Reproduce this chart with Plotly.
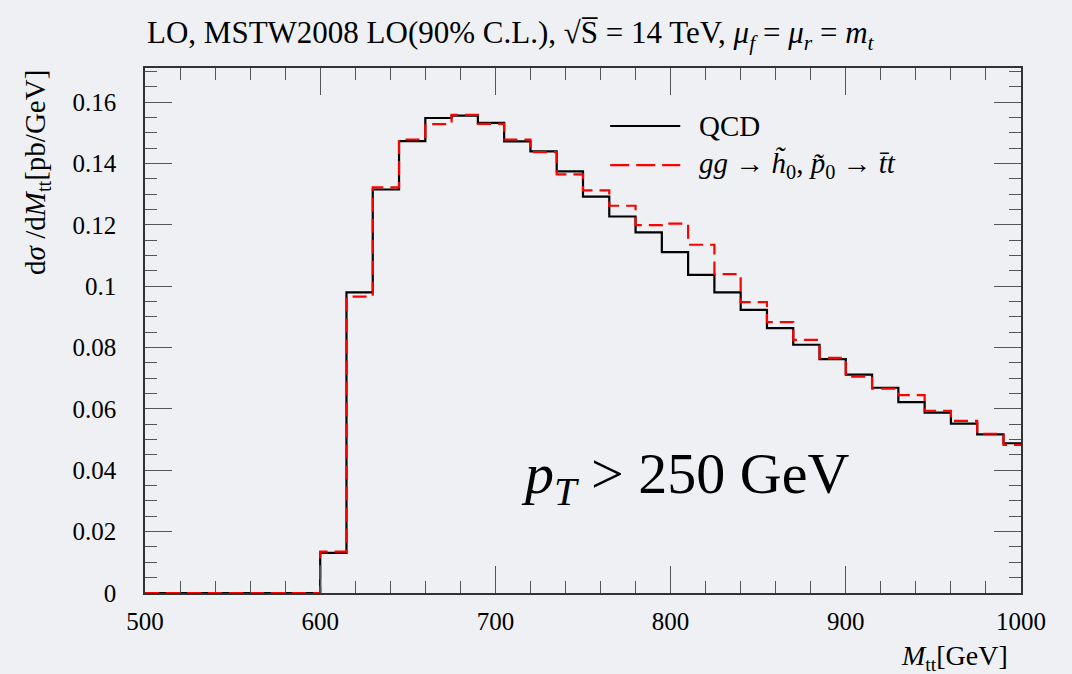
import plotly.graph_objects as go

# Bin left edges (GeV); region 500-600 is empty
bin_edges = [500, 600, 615, 630, 645, 660, 675, 690, 705, 720, 735, 750, 765, 780,
             795, 810, 825, 840, 855, 870, 885, 900, 915, 930, 945, 960, 975, 990]
last_edge = 1005

qcd = [0.0, 0.0131, 0.0980, 0.1315, 0.1473, 0.1548, 0.1556, 0.1532, 0.1472, 0.1439,
       0.1374, 0.1292, 0.1227, 0.1175, 0.1111, 0.1037, 0.0980, 0.0923, 0.0863, 0.0809,
       0.0762, 0.0712, 0.0669, 0.0622, 0.0588, 0.0552, 0.0517, 0.0488]

signal = [0.0, 0.0135, 0.0966, 0.1322, 0.1478, 0.1528, 0.1558, 0.1529, 0.1478, 0.1437,
          0.1364, 0.1312, 0.1262, 0.1199, 0.1204, 0.1135, 0.1039, 0.0948, 0.0883, 0.0825,
          0.0766, 0.0705, 0.0666, 0.0645, 0.0594, 0.0561, 0.0519, 0.0483]

y_tickvals = [0, 0.02, 0.04, 0.06, 0.08, 0.1, 0.12, 0.14, 0.16]
y_ticktext = ["0", "0.02", "0.04", "0.06", "0.08", "0.1", "0.12", "0.14", "0.16"]
x_tickvals = [500, 600, 700, 800, 900, 1000]

xs = bin_edges + [last_edge]
FONT = "Liberation Serif"
BG = "#eef0f3"

fig = go.Figure()
fig.add_trace(go.Scatter(x=xs, y=qcd + [qcd[-1]], mode="lines", line_shape="hv",
                         line=dict(color="black", width=2.2), name="QCD", showlegend=False))
fig.add_trace(go.Scatter(x=xs, y=signal + [signal[-1]], mode="lines", line_shape="hv",
                         line=dict(color="#ff0000", width=2.2, dash="14px,7px"),
                         name="signal", showlegend=False))

axis_common = dict(showgrid=False, zeroline=False, showline=True, linecolor="#333333",
                   linewidth=1.5, mirror="allticks", ticks="inside", tickcolor="#555555",
                   tickwidth=1.3, ticklen=27,
                   tickfont=dict(family=FONT, size=25, color="black"))

fig.update_xaxes(range=[500, 1000], tickvals=x_tickvals, ticklabelstandoff=5,
                 minor=dict(dtick=20, ticks="inside", ticklen=12, tickcolor="#555555",
                            tickwidth=1.3, showgrid=False),
                 **axis_common)
fig.update_yaxes(range=[0, 0.1711], tickvals=y_tickvals, ticktext=y_ticktext,
                 ticklabelstandoff=22,
                 minor=dict(dtick=0.005, ticks="inside", ticklen=12, tickcolor="#555555",
                            tickwidth=1.3, showgrid=False),
                 **axis_common)

fig.update_layout(
    width=1072, height=674,
    margin=dict(l=145, r=51, t=68, b=81),
    paper_bgcolor=BG, plot_bgcolor=BG,
    font=dict(family=FONT, color="black"),
)

anns = [
    dict(text="LO, MSTW2008 LO(90% C.L.), √S̅ = 14 TeV, <i>μ</i><sub><i>f</i></sub> = <i>μ</i><sub><i>r</i></sub> = <i>m</i><sub><i>t</i></sub>",
         xref="paper", yref="paper", x=0.0, y=1.063, xanchor="left", yanchor="middle",
         showarrow=False, font=dict(size=31)),
    dict(text="d<i>σ</i> /d<i>M</i><sub>tt</sub>[pb/GeV]", textangle=-90,
         xref="paper", yref="paper", x=-0.124, y=1.0, xanchor="center", yanchor="top",
         showarrow=False, font=dict(size=29)),
    dict(text="<i>M</i><sub>tt</sub>[GeV]", xref="paper", yref="paper", x=0.987, y=-0.122,
         xanchor="right", yanchor="middle", showarrow=False, font=dict(size=28)),
    dict(text="<i>p</i><sub><i>T</i></sub> > 250 GeV", xref="x", yref="y", x=808, y=0.0378,
         xanchor="center", yanchor="middle", showarrow=False, font=dict(size=58)),
    dict(text="QCD", xref="paper", yref="paper", x=0.630, y=0.8895, xanchor="left",
         yanchor="middle", showarrow=False, font=dict(size=29)),
    dict(text="<i>gg</i> → <i>h̃</i><sub>0</sub>, <i>p̃</i><sub>0</sub> → <i>t̄t</i>",
         xref="paper", yref="paper", x=0.630, y=0.815, xanchor="left",
         yanchor="middle", showarrow=False, font=dict(size=29)),
]
fig.update_layout(annotations=anns)

fig.add_shape(type="line", xref="paper", yref="paper", x0=0.531, x1=0.611, y0=0.8895, y1=0.8895,
              line=dict(color="black", width=2.2))
fig.add_shape(type="line", xref="paper", yref="paper", x0=0.531, x1=0.611, y0=0.815, y1=0.815,
              line=dict(color="#ff0000", width=2.2, dash="19px,7px"))

fig.write_html("out.html")
